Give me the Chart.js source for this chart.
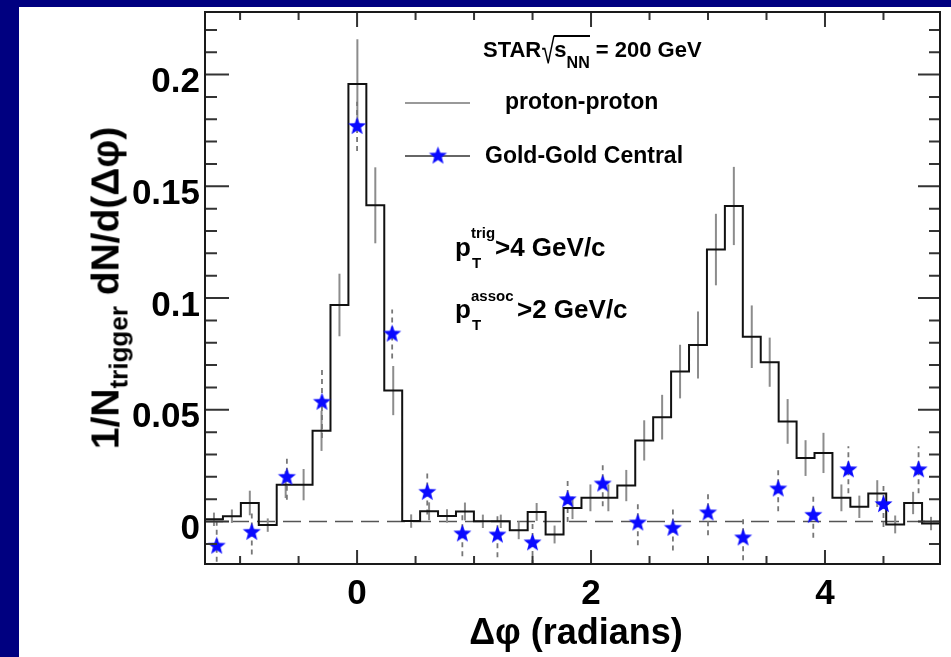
<!DOCTYPE html>
<html>
<head>
<meta charset="utf-8">
<script src="https://cdn.jsdelivr.net/npm/chart.js@4.4.0/dist/chart.umd.min.js"></script>
<style>
body { margin:0; background:#000080; }
#wrap { position:relative; width:951px; height:657px; overflow:hidden; background:#000080; font-family:"Liberation Sans", Arial, sans-serif; font-weight:bold; color:#000; }
#kertas { position:absolute; left:19px; top:7px; right:0; bottom:0; background:#fff; }
canvas { position:absolute; left:0; top:0; }
.t { position:absolute; white-space:nowrap; line-height:1; }
.sub { position:relative; }
</style>
</head>
<body>
<div id="wrap">
  <div id="kertas"></div>
  <canvas id="grafik" width="951" height="657"></canvas>

  <div class="t" style="left:483px;top:39px;font-size:22px">STAR<span style="display:inline-block;transform:scale(1.1,1.6) translateY(1px);margin-left:1px;font-weight:normal">√</span><span style="border-top:2px solid #000">s<span class="sub" style="font-size:16px;top:11px">NN</span></span> = 200 GeV</div>
  <div class="t" style="left:505px;top:90px;font-size:23px">proton-proton</div>
  <div class="t" style="left:485px;top:144px;font-size:23px">Gold-Gold Central</div>

  <div class="t" style="left:455px;top:234px;font-size:26px">p</div>
  <div class="t" style="left:472px;top:255px;font-size:15px">T</div>
  <div class="t" style="left:471px;top:225px;font-size:15px">trig</div>
  <div class="t" style="left:495px;top:234px;font-size:26px">&gt;4 GeV/c</div>

  <div class="t" style="left:455px;top:296px;font-size:26px">p</div>
  <div class="t" style="left:472px;top:317px;font-size:15px">T</div>
  <div class="t" style="left:471px;top:288px;font-size:15px">assoc</div>
  <div class="t" style="left:517px;top:296px;font-size:26px">&gt;2 GeV/c</div>

  <div class="t" style="left:576px;top:614px;font-size:36px;transform:translateX(-50%)">Δφ (radians)</div>
  <div class="t" style="left:105px;top:288px;font-size:39px;transform:translate(-50%,-50%) rotate(-90deg)">1/N<span class="sub" style="font-size:26px;top:9px">trigger</span> dN/d(Δφ)</div>
</div>

<script>
// proton-proton histogram, 41 bins covering 2π starting at -1.3
const ppStart = -1.3;
const ppBinWidth = 2 * Math.PI / 41;
const ppValues = [0.001, 0.0024, 0.0083, -0.0016, 0.0165, 0.0165, 0.0406, 0.0969, 0.1958, 0.1415,
    0.0586, 0.0002, 0.0046, 0.0025, 0.0045, 0.0001, 0.0001, -0.0039, 0.0043, -0.0058,
    0.0061, 0.0106, 0.0106, 0.0161, 0.0363, 0.0467, 0.0671, 0.079, 0.1217, 0.1412,
    0.0827, 0.0713, 0.0448, 0.0284, 0.0307, 0.0106, 0.0066, 0.0125, -0.0013, 0.0083, -0.0009];
const ppErrors = [0.003, 0.003, 0.0055, 0.003, 0.006, 0.007, 0.009, 0.014, 0.02, 0.017,
    0.011, 0.003, 0.004, 0.003, 0.004, 0.003, 0.003, 0.004, 0.004, 0.004,
    0.005, 0.006, 0.006, 0.007, 0.009, 0.01, 0.012, 0.015, 0.016, 0.0175,
    0.014, 0.011, 0.01, 0.008, 0.009, 0.006, 0.005, 0.006, 0.004, 0.005, 0.003];

// Gold-Gold central points
const auX = [-1.2, -0.9, -0.6, -0.3, 0, 0.3, 0.6, 0.9, 1.2, 1.5, 1.8, 2.1, 2.4, 2.7, 3.0, 3.3, 3.6, 3.9, 4.2, 4.5, 4.8];
const auValues = [-0.011, -0.0048, 0.0198, 0.0534, 0.1768, 0.0839, 0.0131, -0.0055, -0.006, -0.0095, 0.0098,
    0.0168, -0.0006, -0.003, 0.0039, -0.0073, 0.0146, 0.0028, 0.0232, 0.0076, 0.0232];
const auErrors = [0.011, 0.01, 0.01, 0.016, 0.011, 0.011, 0.01, 0.01, 0.01, 0.01, 0.01,
    0.01, 0.01, 0.01, 0.01, 0.01, 0.01, 0.01, 0.0105, 0.01, 0.0105];

const xMajorTicks = [0, 2, 4];
const xMinorTicks = [-1, -0.5, 0, 0.5, 1, 1.5, 2, 2.5, 3, 3.5, 4, 4.5];
const yMajorTicks = [0, 0.05, 0.1, 0.15, 0.2];
const yMinorTicks = [-0.01, 0, 0.01, 0.02, 0.03, 0.04, 0.05, 0.06, 0.07, 0.08, 0.09, 0.1, 0.11,
    0.12, 0.13, 0.14, 0.15, 0.16, 0.17, 0.18, 0.19, 0.2, 0.21, 0.22];
const xMin = ppStart, xMax = ppStart + 2 * Math.PI;
const yMin = -0.019, yMax = 0.228;

function makeStar(r) {
    const c = document.createElement('canvas');
    c.width = c.height = Math.ceil(r * 2) + 2;
    const g = c.getContext('2d');
    g.translate(c.width / 2, c.height / 2);
    g.beginPath();
    for (let i = 0; i < 10; i++) {
        const rad = i % 2 ? r * 0.42 : r;
        const a = -Math.PI / 2 + i * Math.PI / 5;
        g.lineTo(rad * Math.cos(a), rad * Math.sin(a));
    }
    g.closePath(); g.fillStyle = '#0a0aff'; g.fill();
    return c;
}
const star = makeStar(9.5);

const ppPoints = [];
ppValues.forEach((v, i) => {
    const left = ppStart + i * ppBinWidth;
    ppPoints.push({ x: left, y: v }, { x: left + ppBinWidth, y: v });
});
const auPoints = auX.map((x, i) => ({ x, y: auValues[i] }));

const decor = {
    id: 'decor',
    beforeDatasetsDraw(chart) {
        const { ctx, chartArea: a, scales: { x, y } } = chart;
        ctx.save();
        ctx.beginPath(); ctx.rect(a.left, a.top, a.width, a.height); ctx.clip();
        const y0 = y.getPixelForValue(0);
        ctx.strokeStyle = '#555'; ctx.lineWidth = 1.5; ctx.setLineDash([18, 8]);
        ctx.beginPath(); ctx.moveTo(a.left, y0); ctx.lineTo(a.right, y0); ctx.stroke();

        ctx.setLineDash([]); ctx.strokeStyle = '#8c8c8c'; ctx.lineWidth = 2;
        ppValues.forEach((v, i) => {
            const px = x.getPixelForValue(ppStart + (i + 0.5) * ppBinWidth);
            ctx.beginPath();
            ctx.moveTo(px, y.getPixelForValue(v - ppErrors[i]));
            ctx.lineTo(px, y.getPixelForValue(v + ppErrors[i]));
            ctx.stroke();
        });

        ctx.setLineDash([5, 4]); ctx.strokeStyle = '#777'; ctx.lineWidth = 1.8;
        auValues.forEach((v, i) => {
            const px = x.getPixelForValue(auX[i]);
            ctx.beginPath();
            ctx.moveTo(px, y.getPixelForValue(v - auErrors[i]));
            ctx.lineTo(px, y.getPixelForValue(v + auErrors[i]));
            ctx.stroke();
        });
        ctx.restore();
    },
    afterDraw(chart) {
        const { ctx, chartArea: a, scales: { x, y } } = chart;
        ctx.save();
        ctx.strokeStyle = '#333'; ctx.lineWidth = 2;
        xMinorTicks.forEach(v => {
            const px = x.getPixelForValue(v);
            const big = xMajorTicks.includes(v);
            ctx.beginPath();
            ctx.moveTo(px, a.bottom); ctx.lineTo(px, a.bottom - (big ? 14 : 8));
            ctx.moveTo(px, a.top); ctx.lineTo(px, a.top + (big ? 15 : 8));
            ctx.stroke();
        });
        yMinorTicks.forEach(v => {
            const py = y.getPixelForValue(v);
            const big = yMajorTicks.some(m => Math.abs(m - v) < 1e-9);
            ctx.beginPath();
            ctx.moveTo(a.left, py); ctx.lineTo(a.left + (big ? 24 : 12), py);
            ctx.moveTo(a.right, py); ctx.lineTo(a.right - (big ? 22 : 11), py);
            ctx.stroke();
        });
        ctx.strokeStyle = '#1a1a1a';
        ctx.strokeRect(a.left, a.top, a.width, a.height);

        // legend samples
        ctx.strokeStyle = '#999'; ctx.lineWidth = 2;
        ctx.beginPath(); ctx.moveTo(405, 103); ctx.lineTo(470, 103); ctx.stroke();
        ctx.strokeStyle = '#333'; ctx.lineWidth = 1.5;
        ctx.beginPath(); ctx.moveTo(405, 156); ctx.lineTo(470, 156); ctx.stroke();
        ctx.drawImage(star, 438 - star.width / 2, 156 - star.height / 2);
        ctx.restore();
    }
};

const tickFont = { family: '"Liberation Sans", Arial, sans-serif', size: 35, weight: 'bold' };

new Chart(document.getElementById('grafik'), {
    type: 'scatter',
    data: {
        datasets: [
            { label: 'Gold-Gold Central', data: auPoints, pointStyle: star, pointRadius: 10, order: 1 },
            { label: 'proton-proton', data: ppPoints, showLine: true, borderColor: '#111', borderWidth: 2,
              pointRadius: 0, tension: 0, fill: false, order: 2 }
        ]
    },
    options: {
        responsive: false, animation: false,
        layout: { padding: { left: 0, right: 9, top: 12, bottom: 0 } },
        plugins: { legend: { display: false }, tooltip: { enabled: false } },
        scales: {
            x: {
                type: 'linear', min: xMin, max: xMax,
                grid: { display: false, drawTicks: false }, border: { display: false },
                afterBuildTicks: s => { s.ticks = xMajorTicks.map(v => ({ value: v })); },
                afterFit: s => { s.height = 93; s.paddingLeft = 0; s.paddingRight = 0; },
                ticks: { padding: 9, font: tickFont, color: '#000', maxRotation: 0, autoSkip: false, callback: v => String(v) }
            },
            y: {
                type: 'linear', min: yMin, max: yMax,
                grid: { display: false, drawTicks: false }, border: { display: false },
                afterBuildTicks: s => { s.ticks = yMajorTicks.map(v => ({ value: v })); },
                afterFit: s => { s.width = 205; s.paddingTop = 0; s.paddingBottom = 0; },
                ticks: { padding: 5, labelOffset: 8, font: tickFont, color: '#000', autoSkip: false, callback: v => String(v) }
            }
        }
    },
    plugins: [decor]
});
</script>
</body>
</html>
